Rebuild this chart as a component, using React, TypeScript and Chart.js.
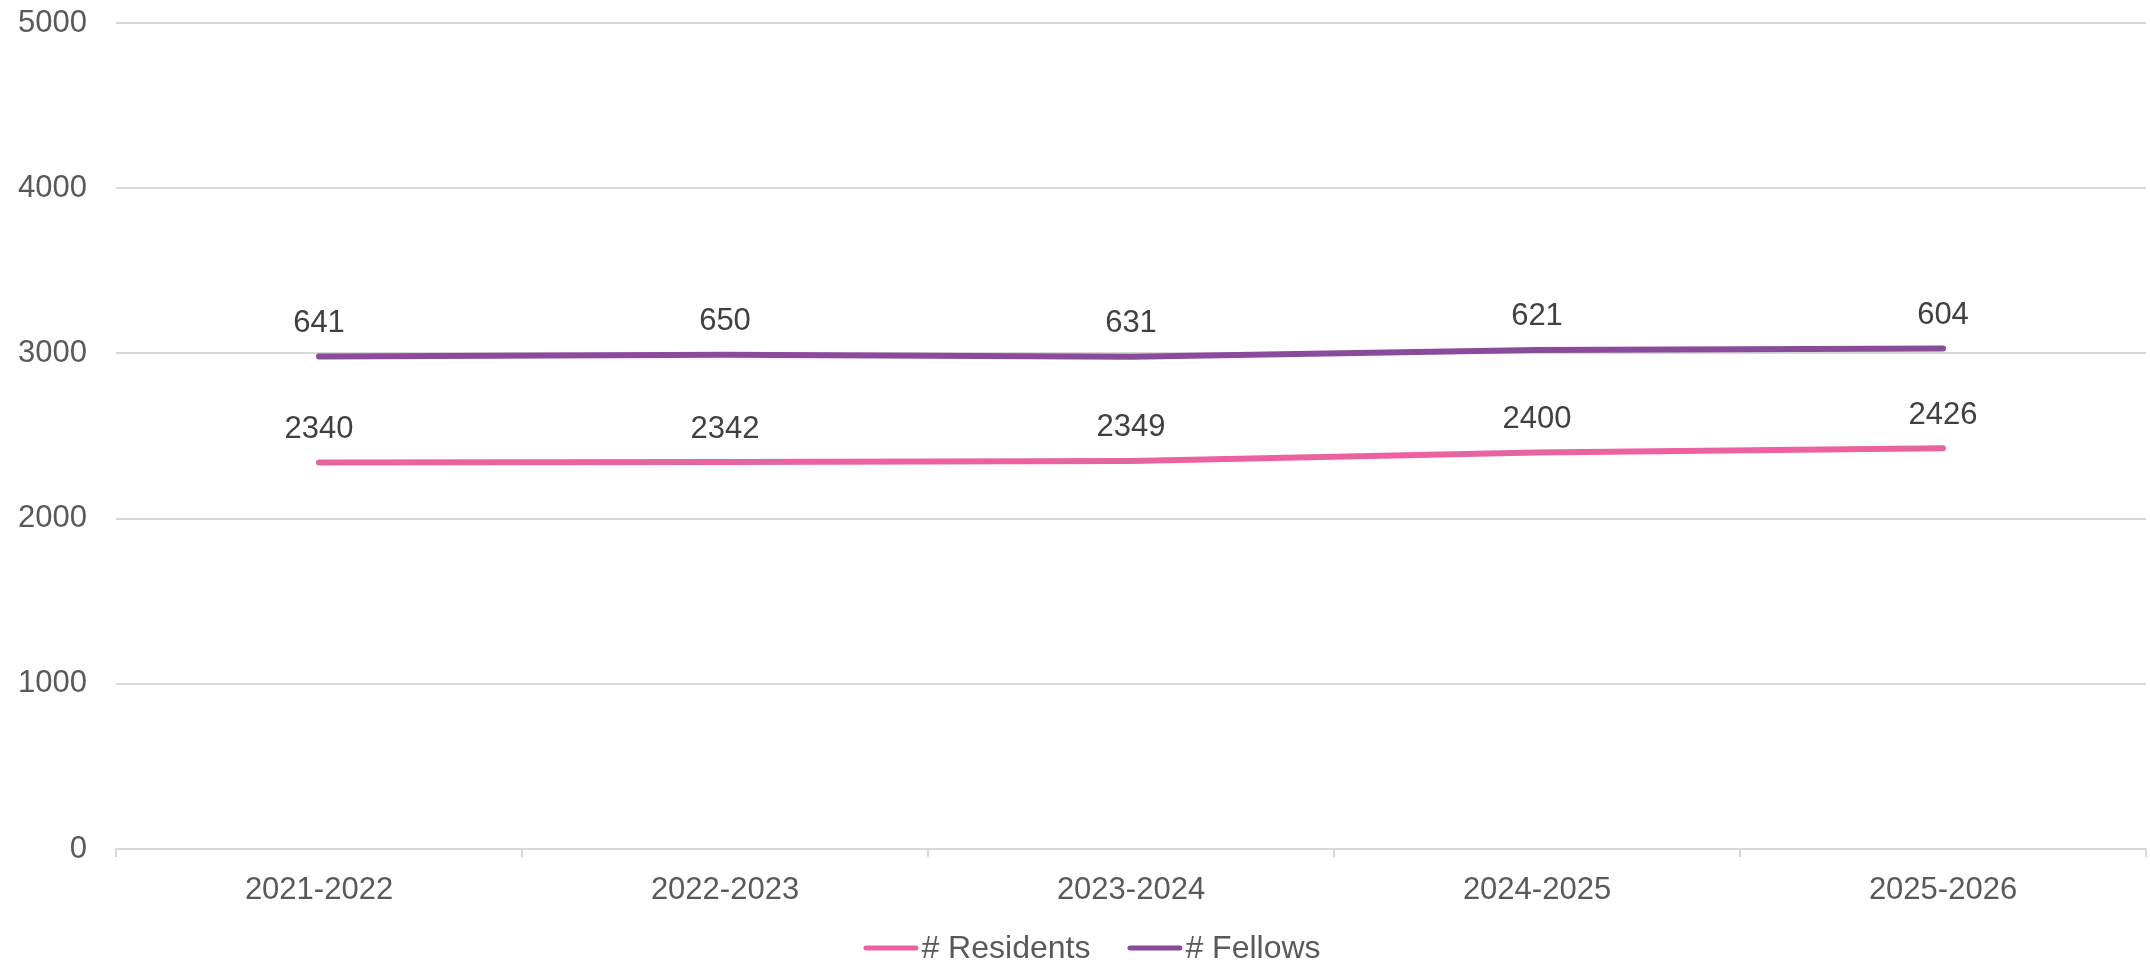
import React, { useEffect, useRef } from "react";
import { Chart, registerables } from "chart.js";

Chart.register(...registerables);

const categories = ["2021-2022", "2022-2023", "2023-2024", "2024-2025", "2025-2026"];
const residents = [2340, 2342, 2349, 2400, 2426];
const fellows = [641, 650, 631, 621, 604];
const seriesNames = ["# Residents", "# Fellows"];
const yMin = 0;
const yMax = 5000;
const yStep = 1000;

const FONT = "'Liberation Sans', Arial, sans-serif";
const PINK = "#EA63A0";
const PURPLE = "#8A4B9D";
const TICK_COLOR = "#595959";
const LABEL_COLOR = "#404040";
const GRID_COLOR = "#D9D9D9";

const valueLabels = {
  id: "valueLabels",
  afterDatasetsDraw(chart: any) {
    const ctx = chart.ctx;
    ctx.save();
    ctx.font = `31px ${FONT}`;
    ctx.fillStyle = LABEL_COLOR;
    ctx.textAlign = "center";
    ctx.textBaseline = "middle";
    chart.data.datasets.forEach((ds: any, i: number) => {
      const meta = chart.getDatasetMeta(i);
      meta.data.forEach((pt: any, j: number) => {
        ctx.fillText(String(ds.data[j]), pt.x, pt.y - 33);
      });
    });
    ctx.restore();
  },
};

const customLegend = {
  id: "customLegend",
  afterDraw(chart: any) {
    const ctx = chart.ctx;
    ctx.save();
    ctx.font = `32px ${FONT}`;
    const lineW = 55;
    const gapText = 3;
    const gapItem = 37;
    const items = chart.data.datasets.map((ds: any) => ({
      text: ds.label,
      color: ds.borderColor,
      w: ctx.measureText(ds.label).width,
    }));
    const total =
      items.reduce((s: number, it: any) => s + lineW + gapText + it.w, 0) +
      gapItem * (items.length - 1);
    let x = chart.width / 2 + 17 - total / 2;
    const yLine = 948;
    const yText = 958;
    items.forEach((it: any) => {
      ctx.strokeStyle = it.color;
      ctx.lineWidth = 5;
      ctx.lineCap = "round";
      ctx.beginPath();
      ctx.moveTo(x + 2.5, yLine);
      ctx.lineTo(x + lineW - 2.5, yLine);
      ctx.stroke();
      ctx.fillStyle = TICK_COLOR;
      ctx.textAlign = "left";
      ctx.textBaseline = "alphabetic";
      ctx.fillText(it.text, x + lineW + gapText, yText);
      x += lineW + gapText + it.w + gapItem;
    });
    ctx.restore();
  },
};

export default function App() {
  const canvasRef = useRef<HTMLCanvasElement | null>(null);

  useEffect(() => {
    if (!canvasRef.current) return;
    const chart = new Chart(canvasRef.current, {
      type: "line",
      data: {
        labels: categories,
        datasets: [
          {
            label: seriesNames[0],
            data: residents,
            borderColor: PINK,
            backgroundColor: PINK,
            borderWidth: 6,
            pointRadius: 0,
            tension: 0,
            fill: false,
            borderCapStyle: "round",
            borderJoinStyle: "round",
          },
          {
            label: seriesNames[1],
            data: fellows,
            borderColor: PURPLE,
            backgroundColor: PURPLE,
            borderWidth: 6,
            pointRadius: 0,
            tension: 0,
            fill: false,
            borderCapStyle: "round",
            borderJoinStyle: "round",
          },
        ],
      },
      options: {
        responsive: false,
        maintainAspectRatio: false,
        animation: false,
        devicePixelRatio: 1,
        layout: { padding: { top: 23, right: 4, bottom: 49, left: 0 } },
        plugins: {
          legend: { display: false },
          tooltip: { enabled: false },
        },
        scales: {
          x: {
            type: "category",
            offset: true,
            grid: {
              offset: true,
              drawOnChartArea: false,
              drawTicks: true,
              tickLength: 8,
              color: GRID_COLOR,
              lineWidth: 2,
            },
            border: { display: true, color: GRID_COLOR, width: 2 },
            ticks: {
              color: TICK_COLOR,
              font: { family: FONT, size: 31 },
              padding: 15,
              maxRotation: 0,
            },
            afterFit: (scale: any) => {
              scale.height = 62;
              scale.paddingLeft = 0;
              scale.paddingRight = 0;
            },
          },
          y: {
            stacked: true,
            min: yMin,
            max: yMax,
            ticks: {
              stepSize: yStep,
              color: TICK_COLOR,
              font: { family: FONT, size: 31 },
              padding: 29,
              callback: (v: any) => String(v),
            },
            grid: {
              color: GRID_COLOR,
              lineWidth: 2,
              drawTicks: false,
            },
            border: { display: false },
            afterFit: (scale: any) => {
              scale.width = 116;
              scale.paddingTop = 0;
              scale.paddingBottom = 0;
            },
          },
        },
      },
      plugins: [valueLabels, customLegend],
    });
    return () => chart.destroy();
  }, []);

  return (
    <div style={{ position: "fixed", top: 0, left: 0, width: 2150, height: 960, background: "#fff" }}>
      <canvas ref={canvasRef} width={2150} height={960} style={{ width: 2150, height: 960, display: "block" }} />
    </div>
  );
}
